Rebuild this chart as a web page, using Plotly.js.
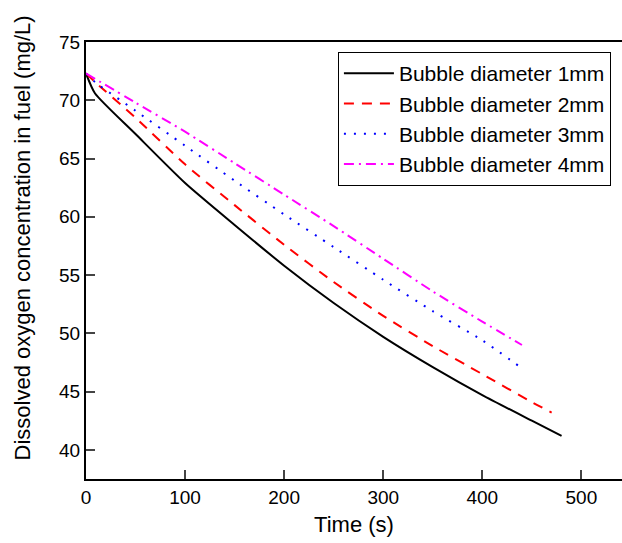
<!DOCTYPE html>
<html><head><meta charset="utf-8">
<script src="https://cdn.plot.ly/plotly-3.0.1.min.js"></script>
<style>html,body{margin:0;padding:0;background:#fff}#chart{width:622px;height:543px}</style>
</head><body><div id="chart"></div>
<script>
const names = ["Bubble diameter 1mm","Bubble diameter 2mm","Bubble diameter 3mm","Bubble diameter 4mm"];
const t1 = [0, 9, 50, 100, 150, 200, 250, 300, 350, 400, 450, 480];
const c1 = [72.3, 70.6, 67.1, 62.9, 59.3, 55.8, 52.6, 49.7, 47.1, 44.7, 42.5, 41.2];
const t2 = [0, 10, 50, 100, 150, 200, 250, 300, 350, 400, 450, 470];
const c2 = [72.3, 71.5, 68.5, 64.5, 61.0, 57.6, 54.4, 51.5, 48.9, 46.5, 44.1, 43.2];
const t3 = [0, 10, 50, 100, 150, 200, 250, 300, 350, 400, 440];
const c3 = [72.3, 71.5, 69.1, 66.1, 63.1, 60.2, 57.4, 54.6, 51.9, 49.4, 47.0];
const t4 = [0, 50, 100, 150, 200, 250, 300, 350, 400, 440];
const c4 = [72.3, 69.8, 67.3, 64.6, 61.9, 59.2, 56.4, 53.6, 51.0, 49.0];
const xTicks = [0, 100, 200, 300, 400, 500];
const yTicks = [40, 45, 50, 55, 60, 65, 70, 75];
const xTitle = "Time (s)";
const yTitle = "Dissolved oxygen concentration in fuel (mg/L)";

const colors = ["#000000", "#ff0000", "#0000ff", "#ff00ff"];
const dashes = ["solid", "10px,8px", "2px,8px", "10px,5px,2px,5px"];
const xs = [t1, t2, t3, t4], ys = [c1, c2, c3, c4];
const data = xs.map((x, i) => ({
  x: x, y: ys[i], type: "scatter", mode: "lines", name: names[i],
  line: {color: colors[i], width: 2, dash: dashes[i], shape: "spline", smoothing: 0.6}
}));
const fam = "Liberation Sans, Arial, sans-serif";
const layout = {
  width: 622, height: 543,
  margin: {l: 86, r: 0, t: 42, b: 64},
  paper_bgcolor: "#fff", plot_bgcolor: "#fff",
  font: {family: fam, size: 20, color: "#000"},
  showlegend: true,
  legend: {x: 0.47, y: 0.977, xanchor: "left", yanchor: "top",
    bordercolor: "#000", borderwidth: 1, bgcolor: "#fff", itemwidth: 50,
    font: {family: fam, size: 21, color: "#000"}},
  xaxis: {range: [0, 541], tickvals: xTicks, ticks: "inside", ticklen: 9, tickwidth: 2,
    showline: true, linewidth: 2, linecolor: "#000", mirror: true, showgrid: false, zeroline: false,
    tickfont: {family: fam, size: 19, color: "#000"},
    title: {text: xTitle, font: {family: fam, size: 22, color: "#000"}, standoff: 10}},
  yaxis: {range: [37.5, 75], tickvals: yTicks, ticks: "inside", ticklen: 9, tickwidth: 2,
    showline: true, linewidth: 2, linecolor: "#000", showgrid: false, zeroline: false,
    tickfont: {family: fam, size: 19, color: "#000"}},
  annotations: [{text: yTitle, xref: "paper", yref: "paper", x: -0.119, y: 0.551,
    xanchor: "center", yanchor: "middle", textangle: -90, showarrow: false,
    font: {family: fam, size: 22, color: "#000"}}]
};
Plotly.newPlot("chart", data, layout, {displayModeBar: false, staticPlot: true});
</script></body></html>
